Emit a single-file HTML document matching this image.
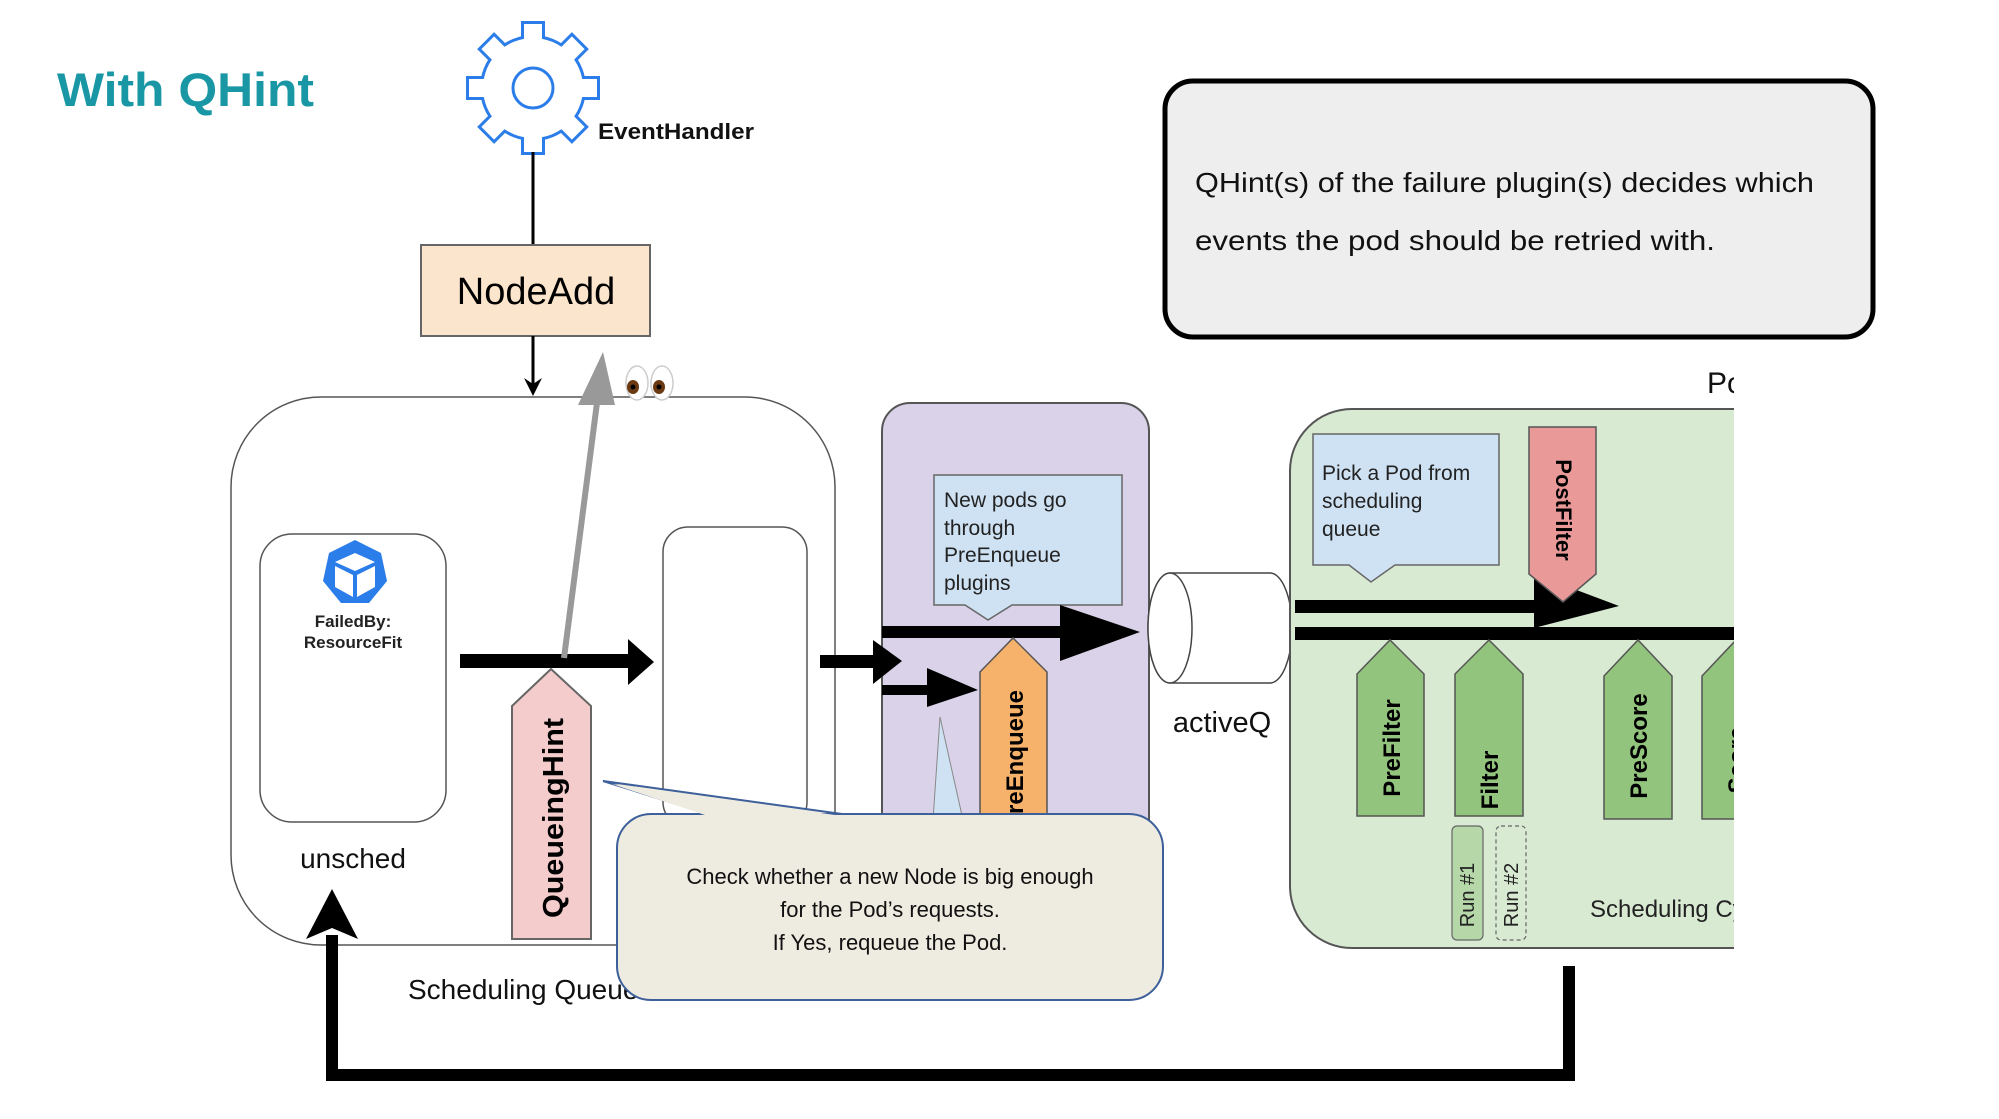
<!DOCTYPE html>
<html><head><meta charset="utf-8"><style>
html,body{margin:0;padding:0;background:#fff;}
svg{display:block;}
text{font-family:"Liberation Sans",sans-serif;}
</style></head><body>
<svg width="1999" height="1119" viewBox="0 0 1999 1119" xmlns="http://www.w3.org/2000/svg">
<defs><clipPath id="cr"><rect x="0" y="0" width="1734" height="1119"/></clipPath></defs>
<text x="57" y="106" font-size="47" font-weight="bold" fill="#1997a5" textLength="257" lengthAdjust="spacingAndGlyphs">With QHint</text>

<g transform="translate(533,88)">
  <g fill="#2b7de9" stroke="#2b7de9" stroke-width="6">
    <circle r="50"/>
    <rect x="-9" y="-64" width="18" height="20"/>
    <rect x="-9" y="-64" width="18" height="20" transform="rotate(45)"/>
    <rect x="-9" y="-64" width="18" height="20" transform="rotate(90)"/>
    <rect x="-9" y="-64" width="18" height="20" transform="rotate(135)"/>
    <rect x="-9" y="-64" width="18" height="20" transform="rotate(180)"/>
    <rect x="-9" y="-64" width="18" height="20" transform="rotate(225)"/>
    <rect x="-9" y="-64" width="18" height="20" transform="rotate(270)"/>
    <rect x="-9" y="-64" width="18" height="20" transform="rotate(315)"/>
  </g>
  <g fill="#fff">
    <circle r="50"/>
    <rect x="-9" y="-64" width="18" height="20"/>
    <rect x="-9" y="-64" width="18" height="20" transform="rotate(45)"/>
    <rect x="-9" y="-64" width="18" height="20" transform="rotate(90)"/>
    <rect x="-9" y="-64" width="18" height="20" transform="rotate(135)"/>
    <rect x="-9" y="-64" width="18" height="20" transform="rotate(180)"/>
    <rect x="-9" y="-64" width="18" height="20" transform="rotate(225)"/>
    <rect x="-9" y="-64" width="18" height="20" transform="rotate(270)"/>
    <rect x="-9" y="-64" width="18" height="20" transform="rotate(315)"/>
  </g>
  <circle r="20" fill="none" stroke="#2b7de9" stroke-width="3"/>
</g>
<text x="598" y="139" font-size="22" font-weight="bold" fill="#111" textLength="156" lengthAdjust="spacingAndGlyphs">EventHandler</text>

<line x1="533" y1="152" x2="533" y2="245" stroke="#000" stroke-width="3"/>
<rect x="421" y="245" width="229" height="91" fill="#fce5cd" stroke="#666" stroke-width="2"/>
<text x="536" y="304" font-size="38" text-anchor="middle" fill="#000">NodeAdd</text>
<line x1="533" y1="336" x2="533" y2="385" stroke="#000" stroke-width="3"/>
<polygon points="524,378 533,396 542,378 533,384" fill="#000"/>

<rect x="231" y="397" width="604" height="548" rx="90" ry="90" fill="#fff" stroke="#555" stroke-width="1.5"/>
<text x="408" y="999" font-size="28" fill="#111">Scheduling Queue</text>

<rect x="260" y="534" width="186" height="288" rx="32" ry="32" fill="#fff" stroke="#555" stroke-width="1.5"/>
<g transform="translate(355,573)">
  <polygon points="0,-33 26,-20 32,8 14,30 -14,30 -32,8 -26,-20" fill="#2b7de9"/>
  <polygon points="0,-20 20,-11 0,-2 -20,-11" fill="#fff"/>
  <polygon points="-20,-7 -2,2 -2,24 -20,14" fill="#fff"/>
  <polygon points="20,-7 2,2 2,24 20,14" fill="#fff"/>
</g>
<text x="353" y="627" font-size="17" font-weight="bold" text-anchor="middle" fill="#222">FailedBy:</text>
<text x="353" y="648" font-size="17" font-weight="bold" text-anchor="middle" fill="#222">ResourceFit</text>
<text x="353" y="868" font-size="28" text-anchor="middle" fill="#111">unsched</text>

<rect x="663" y="527" width="144" height="300" rx="25" ry="25" fill="#fff" stroke="#555" stroke-width="1.5"/>

<rect x="460" y="654" width="172" height="14" fill="#000"/>
<polygon points="628,639 654,662 628,685" fill="#000"/>

<line x1="564" y1="658" x2="598" y2="395" stroke="#999" stroke-width="6"/>
<polygon points="603,352 578,405 615,405" fill="#999"/>

<g>
  <ellipse cx="637" cy="383" rx="11" ry="17" fill="#fff" stroke="#ccc" stroke-width="1.5"/>
  <ellipse cx="633" cy="387" rx="6" ry="7" fill="#6b3a12"/>
  <circle cx="633" cy="387" r="2.5" fill="#000"/>
  <ellipse cx="662" cy="383" rx="11" ry="17" fill="#fff" stroke="#ccc" stroke-width="1.5"/>
  <ellipse cx="659" cy="387" rx="6" ry="7" fill="#6b3a12"/>
  <circle cx="659" cy="387" r="2.5" fill="#000"/>
</g>

<polygon points="512,706 551,669 591,706 591,939 512,939" fill="#f4cccc" stroke="#666" stroke-width="2"/>
<text transform="translate(563,818) rotate(-90)" font-size="29" font-weight="bold" text-anchor="middle" fill="#000" textLength="200" lengthAdjust="spacingAndGlyphs">QueueingHint</text>

<rect x="882" y="403" width="267" height="460" rx="28" ry="28" fill="#d9d2e9" stroke="#555" stroke-width="2"/>
<polygon points="934,475 1122,475 1122,605 1012,605 988,620 965,605 934,605" fill="#cfe2f3" stroke="#666" stroke-width="1.5"/>
<text x="944" y="507" font-size="21" fill="#222">New pods go</text>
<text x="944" y="535" font-size="21" fill="#222">through</text>
<text x="944" y="562" font-size="21" fill="#222">PreEnqueue</text>
<text x="944" y="590" font-size="21" fill="#222">plugins</text>
<rect x="882" y="626" width="182" height="12" fill="#000"/>
<polygon points="1060,605 1140,632 1060,661" fill="#000"/>
<rect x="820" y="655" width="56" height="13" fill="#000"/>
<polygon points="873,640 902,661 873,684" fill="#000"/>
<rect x="882" y="685" width="50" height="10" fill="#000"/>
<polygon points="927,668 978,690 927,707" fill="#000"/>
<polygon points="980,672 1013,638 1047,672 1047,830 980,830" fill="#f6b26b" stroke="#555" stroke-width="1.5"/>
<text transform="translate(1023,760) rotate(-90)" font-size="24" font-weight="bold" text-anchor="middle" fill="#000">PreEnqueue</text>
<polygon points="940,717 933,820 963,820" fill="#cfe2f3" stroke="#888" stroke-width="1"/>

<path d="M1170,573 L1270,573 A22,55 0 0 1 1270,683 L1170,683 A22,55 0 0 1 1170,573 Z" fill="#fff" stroke="#444" stroke-width="1.5"/>
<ellipse cx="1170" cy="628" rx="22" ry="55" fill="#fff" stroke="#444" stroke-width="1.5"/>
<text x="1222" y="732" font-size="29" text-anchor="middle" fill="#111">activeQ</text>

<g clip-path="url(#cr)">
  <text x="1707" y="393" font-size="30" fill="#111">Pod</text>
  <rect x="1290" y="409" width="560" height="539" rx="62" ry="62" fill="#d9ead3" stroke="#555" stroke-width="2"/>
  <polygon points="1313,434 1499,434 1499,565 1395,565 1371,582 1349,565 1313,565" fill="#cfe2f3" stroke="#666" stroke-width="1.5"/>
  <text x="1322" y="480" font-size="21" fill="#222">Pick a Pod from</text>
  <text x="1322" y="508" font-size="21" fill="#222">scheduling</text>
  <text x="1322" y="536" font-size="21" fill="#222">queue</text>
  <rect x="1295" y="600" width="245" height="13" fill="#000"/>
  <polygon points="1534,574 1619,606 1534,628" fill="#000"/>
  <rect x="1295" y="627" width="450" height="13" fill="#000"/>
  <polygon points="1529,427 1596,427 1596,574 1563,602 1529,574" fill="#ea9999" stroke="#555" stroke-width="1.5"/>
  <text transform="translate(1556,510) rotate(90)" font-size="22" font-weight="bold" text-anchor="middle" fill="#000">PostFilter</text>
  <polygon points="1357,674 1390,640 1424,674 1424,816 1357,816" fill="#93c47d" stroke="#555" stroke-width="1.5"/>
  <text transform="translate(1400,748) rotate(-90)" font-size="24" font-weight="bold" text-anchor="middle" fill="#000">PreFilter</text>
  <polygon points="1455,674 1489,640 1523,674 1523,816 1455,816" fill="#93c47d" stroke="#555" stroke-width="1.5"/>
  <text transform="translate(1498,780) rotate(-90)" font-size="24" font-weight="bold" text-anchor="middle" fill="#000">Filter</text>
  <polygon points="1604,676 1638,640 1672,676 1672,819 1604,819" fill="#93c47d" stroke="#555" stroke-width="1.5"/>
  <text transform="translate(1647,746) rotate(-90)" font-size="24" font-weight="bold" text-anchor="middle" fill="#000">PreScore</text>
  <polygon points="1702,676 1736,640 1770,676 1770,819 1702,819" fill="#93c47d" stroke="#555" stroke-width="1.5"/>
  <text transform="translate(1745,760) rotate(-90)" font-size="24" font-weight="bold" text-anchor="middle" fill="#000">Score</text>
  <rect x="1452" y="826" width="31" height="114" rx="5" fill="#b6d7a8" stroke="#666" stroke-width="1.2"/>
  <text transform="translate(1474,895) rotate(-90)" font-size="20" text-anchor="middle" fill="#222">Run #1</text>
  <rect x="1496" y="826" width="30" height="114" rx="5" fill="#d9ead3" stroke="#666" stroke-width="1.2" stroke-dasharray="4,3"/>
  <text transform="translate(1518,895) rotate(-90)" font-size="20" text-anchor="middle" fill="#222">Run #2</text>
  <text x="1590" y="917" font-size="24" fill="#222">Scheduling Cycle</text>
</g>

<polyline points="1569,966 1569,1075 332,1075 332,935" fill="none" stroke="#000" stroke-width="12"/>
<polygon points="332,889 306,939 332,928 358,939" fill="#000"/>

<path d="M708,814 L603,781 L842,814" fill="#eeebe0" stroke="#3d5f9a" stroke-width="2"/>
<rect x="617" y="814" width="546" height="186" rx="34" ry="34" fill="#eeebe0" stroke="#3d5f9a" stroke-width="2"/>
<polygon points="612,784 708,816 842,816" fill="#eeebe0"/>
<text x="890" y="884" font-size="22" fill="#111" text-anchor="middle">Check whether a new Node is big enough</text>
<text x="890" y="917" font-size="22" fill="#111" text-anchor="middle">for the Pod’s requests.</text>
<text x="890" y="950" font-size="22" fill="#111" text-anchor="middle">If Yes, requeue the Pod.</text>

<rect x="1165" y="81" width="708" height="256" rx="28" ry="28" fill="#eeeeee" stroke="#000" stroke-width="5"/>
<text x="1195" y="192" font-size="28" fill="#111" textLength="619" lengthAdjust="spacingAndGlyphs">QHint(s) of the failure plugin(s) decides which</text>
<text x="1195" y="250" font-size="28" fill="#111" textLength="520" lengthAdjust="spacingAndGlyphs">events the pod should be retried with.</text>
</svg>
</body></html>
